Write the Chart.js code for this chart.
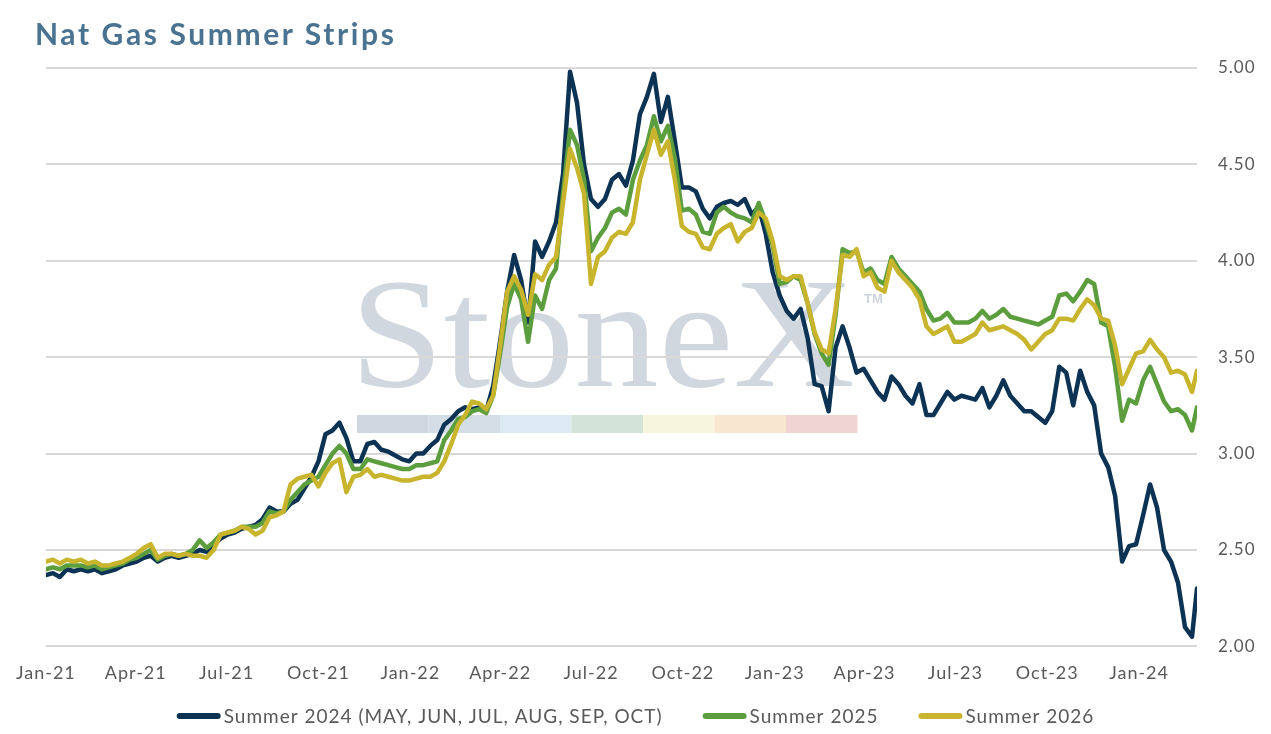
<!DOCTYPE html>
<html><head><meta charset="utf-8">
<script src="https://cdn.jsdelivr.net/npm/chart.js@4.4.1/dist/chart.umd.min.js"></script>
<style>
html,body{margin:0;padding:0;background:#fff;}
#wrap{position:relative;width:1271px;height:734px;overflow:hidden;}
#title{position:absolute;left:35px;top:15px;margin:0;font:bold 30px Lato,sans-serif;letter-spacing:2.6px;color:#4a7391;line-height:36px;}
canvas{position:absolute;left:0;top:0;}
</style></head>
<body><div id="wrap"><canvas id="c" width="1271" height="734"></canvas><h1 id="title">Nat Gas Summer Strips</h1></div>
<script>
// Tick labels (quarter starts) and their day offsets from 1 Jan 2021
const QUARTER_LABELS = ['Jan-21','Apr-21','Jul-21','Oct-21','Jan-22','Apr-22','Jul-22','Oct-22','Jan-23','Apr-23','Jul-23','Oct-23','Jan-24'];
const QUARTER_DAYS = [0,90,181,273,365,455,546,638,730,820,911,1003,1095];
const SERIES_NAMES = ['Summer 2024 (MAY, JUN, JUL, AUG, SEP, OCT)','Summer 2025','Summer 2026'];

// Weekly observations (last one = 27 Feb 2024)
const D24 = [
2.37,2.38,2.36,2.40,2.39,2.40,2.39,2.40,2.38,2.39,
2.40,2.42,2.43,2.44,2.46,2.47,2.44,2.46,2.47,2.46,
2.47,2.48,2.50,2.49,2.53,2.56,2.58,2.59,2.61,2.62,
2.63,2.66,2.72,2.70,2.70,2.74,2.76,2.82,2.88,2.96,
3.10,3.12,3.16,3.08,2.96,2.96,3.05,3.06,3.02,3.01,
2.99,2.97,2.96,3.00,3.00,3.04,3.07,3.15,3.18,3.22,
3.24,3.23,3.24,3.22,3.35,3.58,3.84,4.03,3.90,3.68,
4.10,4.02,4.10,4.20,4.45,4.98,4.82,4.50,4.32,4.28,
4.32,4.42,4.45,4.39,4.52,4.76,4.85,4.97,4.72,4.85,
4.62,4.38,4.38,4.36,4.27,4.22,4.28,4.30,4.31,4.29,
4.32,4.24,4.28,4.14,3.94,3.82,3.74,3.70,3.75,3.60,
3.36,3.35,3.22,3.55,3.66,3.55,3.42,3.44,3.38,3.32,
3.28,3.40,3.36,3.30,3.26,3.36,3.20,3.20,3.26,3.32,
3.28,3.30,3.29,3.28,3.34,3.24,3.30,3.38,3.30,3.26,
3.22,3.22,3.19,3.16,3.22,3.45,3.42,3.25,3.43,3.32,
3.25,3.00,2.93,2.78,2.44,2.52,2.53,2.68,2.84,2.72,
2.50,2.44,2.33,2.10,2.05,2.30];
const S25 = [
2.40,2.41,2.40,2.42,2.42,2.42,2.41,2.42,2.40,2.41,
2.42,2.43,2.45,2.46,2.48,2.50,2.45,2.47,2.48,2.47,
2.48,2.50,2.55,2.51,2.54,2.58,2.59,2.60,2.62,2.62,
2.62,2.64,2.70,2.69,2.70,2.76,2.80,2.84,2.86,2.88,
2.94,3.00,3.04,3.00,2.92,2.92,2.97,2.96,2.95,2.94,
2.93,2.92,2.92,2.94,2.94,2.95,2.96,3.07,3.12,3.18,
3.19,3.22,3.23,3.21,3.30,3.52,3.76,3.88,3.80,3.58,
3.82,3.75,3.90,3.96,4.35,4.68,4.60,4.42,4.05,4.12,
4.17,4.25,4.27,4.24,4.42,4.52,4.60,4.75,4.62,4.70,
4.53,4.26,4.27,4.24,4.15,4.14,4.25,4.28,4.25,4.23,
4.22,4.20,4.30,4.20,4.08,3.88,3.89,3.92,3.90,3.78,
3.62,3.52,3.46,3.72,4.06,4.04,4.05,3.94,3.96,3.90,
3.88,4.02,3.96,3.92,3.88,3.84,3.75,3.69,3.70,3.73,
3.68,3.68,3.68,3.70,3.74,3.70,3.72,3.75,3.71,3.70,
3.69,3.68,3.67,3.69,3.71,3.82,3.83,3.79,3.84,3.90,
3.88,3.68,3.66,3.45,3.17,3.28,3.26,3.38,3.45,3.36,
3.27,3.22,3.23,3.20,3.12,3.24];
const S26 = [
2.44,2.45,2.43,2.45,2.44,2.45,2.43,2.44,2.42,2.42,
2.43,2.44,2.46,2.48,2.51,2.53,2.46,2.48,2.48,2.47,
2.48,2.47,2.47,2.46,2.50,2.58,2.59,2.60,2.62,2.61,
2.58,2.60,2.67,2.68,2.70,2.84,2.87,2.88,2.89,2.83,
2.90,2.95,2.97,2.80,2.88,2.89,2.92,2.88,2.89,2.88,
2.87,2.86,2.86,2.87,2.88,2.88,2.90,2.96,3.05,3.15,
3.20,3.27,3.26,3.23,3.30,3.56,3.84,3.92,3.85,3.72,
3.93,3.90,3.98,4.02,4.30,4.58,4.48,4.35,3.88,4.02,
4.05,4.12,4.15,4.14,4.20,4.42,4.55,4.68,4.55,4.62,
4.42,4.18,4.15,4.14,4.07,4.06,4.14,4.17,4.19,4.10,
4.15,4.17,4.25,4.22,4.10,3.92,3.90,3.92,3.92,3.78,
3.63,3.54,3.52,3.75,4.03,4.02,4.06,3.92,3.94,3.86,
3.84,4.00,3.94,3.90,3.86,3.80,3.66,3.62,3.64,3.66,
3.58,3.58,3.60,3.62,3.68,3.64,3.65,3.66,3.64,3.62,
3.59,3.54,3.58,3.62,3.64,3.70,3.70,3.69,3.75,3.80,
3.77,3.70,3.69,3.56,3.36,3.44,3.52,3.53,3.59,3.54,
3.50,3.42,3.43,3.41,3.32,3.43];
const LAST_DAY = 1153;
const DAYS = D24.map((_, i) => (i < D24.length - 1 ? i * 7 : LAST_DAY));

const COLORS = ['#0c3354','#5c9e3d','#c9b42e'];
const TEXT = '#595959';
const FONT = 'Lato, sans-serif';

const toPts = arr => arr.map((v, i) => ({x: DAYS[i], y: v}));

const watermark = {
  id: 'watermark',
  beforeDraw(chart) {
    const ctx = chart.ctx;
    ctx.save();
    ctx.letterSpacing = '0px';
    ctx.fillStyle = '#d0d7df';
    ctx.textBaseline = 'alphabetic';
    ctx.textAlign = 'left';
    ctx.translate(350, 386);
    ctx.scale(1.1, 1.02);
    ctx.font = '153px "Liberation Serif", serif';
    ctx.fillText('StoneX', 0, 0);
    ctx.restore();
    ctx.save();
    ctx.letterSpacing = '0px';
    ctx.fillStyle = '#cdd4dc';
    ctx.font = '600 13px "Liberation Sans", sans-serif';
    ctx.fillText('TM', 864, 303);
    const bar = ['#d0d6df','#d5dde7','#dde9f3','#d4e3d8','#f7f5de','#f8e6d0','#f0d4d4'];
    bar.forEach((c, i) => { ctx.fillStyle = c; ctx.fillRect(357 + i * 71.5, 415, 71.5, 18); });
    ctx.restore();
  }
};

const spacing = {
  id: 'spacing',
  beforeLayout(chart) { chart.ctx.letterSpacing = '1px'; },
  beforeDraw(chart) { chart.ctx.letterSpacing = '1px'; }
};

const customLegend = {
  id: 'customLegend',
  afterDraw(chart) {
    const ctx = chart.ctx;
    ctx.save();
    ctx.letterSpacing = '1px';
    ctx.font = '19px ' + FONT;
    ctx.textBaseline = 'middle';
    ctx.textAlign = 'left';
    const lineW = 44, lineH = 6, gapText = 3, gapItem = 40, cy = 716;
    const widths = chart.data.datasets.map(d => ctx.measureText(d.label).width);
    const total = widths.reduce((a, w) => a + lineW + gapText + w, 0) + gapItem * (widths.length - 1);
    let x = (chart.width - total) / 2;
    chart.data.datasets.forEach((d, i) => {
      ctx.fillStyle = d.borderColor;
      ctx.beginPath();
      ctx.roundRect(x, cy - lineH / 2, lineW, lineH, 3);
      ctx.fill();
      x += lineW + gapText;
      ctx.fillStyle = TEXT;
      ctx.fillText(d.label, x, cy + 1);
      x += widths[i] + gapItem;
    });
    ctx.restore();
  }
};

new Chart(document.getElementById('c'), {
  type: 'line',
  data: {
    datasets: [
      {label: SERIES_NAMES[0], data: toPts(D24), borderColor: COLORS[0], backgroundColor: COLORS[0], order: 2},
      {label: SERIES_NAMES[1], data: toPts(S25), borderColor: COLORS[1], backgroundColor: COLORS[1], order: 1},
      {label: SERIES_NAMES[2], data: toPts(S26), borderColor: COLORS[2], backgroundColor: COLORS[2], order: 0}
    ]
  },
  options: {
    responsive: false,
    animation: false,
    elements: {
      line: {borderWidth: 4.5, tension: 0, borderJoinStyle: 'round', borderCapStyle: 'round'},
      point: {radius: 0, hoverRadius: 0}
    },
    layout: {padding: {left: 37, right: 13, top: 68, bottom: 34}},
    scales: {
      x: {
        type: 'linear', min: 0, max: LAST_DAY,
        afterBuildTicks: s => { s.ticks = QUARTER_DAYS.map(v => ({value: v})); },
        ticks: {
          autoSkip: false, maxRotation: 0, padding: 16, color: TEXT,
          font: {family: FONT, size: 18},
          callback: v => QUARTER_LABELS[QUARTER_DAYS.indexOf(v)]
        },
        grid: {display: false, drawTicks: false},
        border: {display: false}
      },
      y: {
        position: 'right', min: 2, max: 5,
        afterFit: s => { s.width = 61; },
        ticks: {stepSize: 0.5, padding: 21, color: TEXT, font: {family: FONT, size: 17}, callback: v => v.toFixed(2)},
        grid: {color: '#d9d9d9', lineWidth: 2, drawTicks: false},
        border: {display: false}
      }
    },
    plugins: {legend: {display: false}, tooltip: {enabled: false}, title: {display: false}}
  },
  plugins: [spacing, watermark, customLegend]
});
</script>
</body></html>
